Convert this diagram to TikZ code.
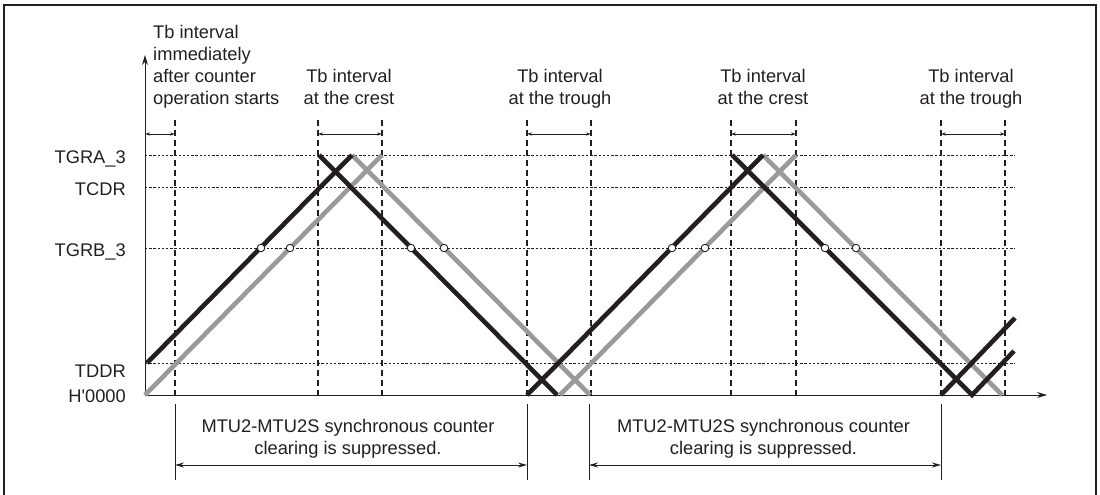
\documentclass[tikz,border=0pt]{standalone}
\usepackage{fontspec}
\newfontfamily\lbsans{Liberation Sans}
\usetikzlibrary{arrows.meta}
\definecolor{ink}{HTML}{231F20}
\definecolor{gry}{HTML}{9A9A9A}
\begin{document}
\begin{tikzpicture}[x=1pt,y=-1pt,
  lbl/.style={font=\lbsans\fontsize{18.3}{22}\selectfont, inner sep=0pt, text=ink},
  lvl/.style={ink, line width=0.9pt, dash pattern=on 2.4pt off 1.8pt},
  vdash/.style={ink, line width=1.1pt, dash pattern=on 6pt off 4pt},
  blk/.style={ink, line width=4.6pt, line cap=butt, line join=miter},
  gra/.style={gry, line width=4.6pt, line cap=butt, line join=miter},
  tb/.style={ink, line width=0.8pt, {Stealth[length=5pt,width=3.2pt]}-{Stealth[length=5pt,width=3.2pt]}},
  span/.style={ink, line width=0.9pt, {Stealth[length=9pt,width=5pt]}-{Stealth[length=9pt,width=5pt]}},
  cmpmark/.style={circle, draw=ink, fill=white, line width=0.9pt, inner sep=0pt, minimum size=7.5pt}
]
\useasboundingbox (0,0) rectangle (1100,495);
% frame
\draw[ink, line width=2.2pt] (4,496) -- (4,5) -- (1096,5) -- (1096,496);

% level labels
\node[lbl, anchor=base east] (lA) at (126,163) {TGRA\_3};
\node[lbl, anchor=base east] (lC) at (126,195) {TCDR};
\node[lbl, anchor=base east] (lB) at (126,256) {TGRB\_3};
\node[lbl, anchor=base east] (lD) at (126,377) {TDDR};
\node[lbl, anchor=base east] (lH) at (126,402) {H'0000};

% dotted level lines
\foreach \y in {155,187,248,363}
  \draw[lvl] (145,\y) -- (1015,\y);

% dashed verticals
\foreach \x in {175,318,382,527,591,731,796,941,1005}
  \draw[vdash] (\x,120) -- (\x,395);

% axes
\coordinate (O) at (145,395);
\coordinate (Ytop) at (145,55);
\coordinate (Xend) at (1047,395);
\draw[ink, line width=1pt, -{Stealth[length=10pt,width=6pt]}] (O) -- (Ytop);
\draw[ink, line width=1pt, -{Stealth[length=10pt,width=6pt]}] (O) -- (Xend);

% Tb interval arrows
\foreach \a/\b in {145/175,318/382,527/591,731/796,941/1005}
  \draw[tb] (\a,134) -- (\b,134);

% top texts
\node[lbl, anchor=north west, align=left] (t0) at (153,25) {Tb interval\\immediately\\after counter\\operation starts};
\node[lbl, anchor=north, align=center] (t1) at (349,69) {Tb interval\\at the crest};
\node[lbl, anchor=north, align=center] (t2) at (560,69) {Tb interval\\at the trough};
\node[lbl, anchor=north, align=center] (t3) at (763,69) {Tb interval\\at the crest};
\node[lbl, anchor=north, align=center] (t4) at (971,69) {Tb interval\\at the trough};

% gray counter
\draw[gra] (145,395) -- (382,155);
\draw[gra] (352,155) -- (590,395);
\draw[gra] (560,395) -- (796,155);
\draw[gra] (763,155) -- (1002,395);

% black counter
\draw[blk] (147,363) -- (352,155);
\draw[blk] (319,155) -- (557,395);
\draw[blk] (527,395) -- (763,155);
\draw[blk] (732,155) -- (972,395) -- (1014,351);
\draw[blk] (941,395) -- (1015,318);

% compare match marks
\foreach \x [count=\i] in {261,290,411,444,672,705,825,856}
  \node[cmpmark] (m\i) at (\x,248) {};

% bottom spans
\foreach \x in {175,527,589,941}
  \draw[ink, line width=0.9pt] (\x,404) -- (\x,480);
\coordinate (s1a) at (175,465); \coordinate (s1b) at (527,465);
\coordinate (s2a) at (589,465); \coordinate (s2b) at (941,465);
\draw[span] (s1a) -- (s1b);
\draw[span] (s2a) -- (s2b);
\node[lbl, anchor=north, align=center] (b1) at (348,419) {MTU2-MTU2S synchronous counter\\clearing is suppressed.};
\node[lbl, anchor=north, align=center] (b2) at (763.5,419) {MTU2-MTU2S synchronous counter\\clearing is suppressed.};
\end{tikzpicture}
\end{document}
